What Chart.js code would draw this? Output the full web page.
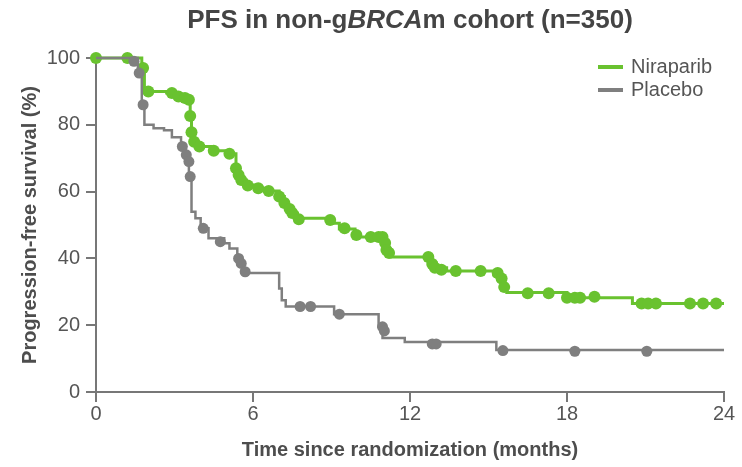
<!DOCTYPE html>
<html>
<head>
<meta charset="utf-8">
<script src="https://cdn.jsdelivr.net/npm/chart.js@4/dist/chart.umd.min.js"></script>
<style>
  html, body { margin: 0; padding: 0; background: #fff; }
  #wrap { width: 742px; height: 467px; position: relative; }
</style>
</head>
<body>
<div id="wrap"><canvas id="c" width="742" height="467"></canvas></div>
<script>
// ---- Data ----
const seriesNames = ["Niraparib", "Placebo"];
const xTickValues = [0, 6, 12, 18, 24];
const yTickValues = [0, 20, 40, 60, 80, 100];

// Kaplan-Meier step points: time (months) and survival (%) after each drop
const niraparibTimes    = [0, 1.75, 1.85, 2.7, 3.0, 3.5, 3.6, 3.65, 3.75, 3.9, 4.4, 5.1, 5.35, 5.45, 5.55, 5.75, 6.2, 6.6, 7.0, 7.2, 7.35, 7.5, 7.7, 8.9, 9.3, 9.9, 10.0, 11.0, 11.1, 11.3, 12.8, 13.0, 13.4, 15.2, 15.4, 15.55, 15.7, 18.0, 20.5, 24];
const niraparibSurvival = [100, 97, 90, 89.5, 88.5, 87.5, 83, 78, 75, 73.5, 72.2, 71.3, 67, 65, 63.5, 62, 61, 60.2, 58.5, 56.6, 54.8, 53.6, 52, 50.5, 48.8, 47, 46.4, 44.5, 42.5, 40.4, 38.6, 37.2, 36.2, 35, 33.5, 31.5, 29.8, 28.2, 26.5, 26.5];

const placeboTimes    = [0, 1.6, 1.75, 1.85, 2.2, 2.6, 2.9, 3.25, 3.35, 3.45, 3.55, 3.65, 3.8, 4.0, 4.3, 4.9, 5.1, 5.4, 5.55, 5.65, 7.0, 7.1, 7.25, 9.1, 10.8, 10.95, 11.8, 15.3, 24];
const placeboSurvival = [100, 95.5, 86, 80, 79, 78.4, 76.3, 74, 72, 69.5, 65, 54, 52, 49, 46, 44.5, 43, 40.4, 37.5, 35.6, 31, 27.5, 25.6, 23.3, 19.5, 16.2, 15, 12.6, 12.6];

// Censoring marks
const niraparibCensorTimes    = [0, 1.2, 1.8, 2.0, 2.9, 3.15, 3.4, 3.55, 3.6, 3.65, 3.75, 3.95, 4.5, 5.1, 5.35, 5.45, 5.55, 5.8, 6.2, 6.6, 7.0, 7.2, 7.4, 7.5, 7.75, 8.95, 9.5, 9.95, 10.5, 10.8, 10.95, 11.05, 11.1, 11.2, 12.7, 12.85, 12.95, 13.2, 13.75, 14.7, 15.35, 15.5, 15.6, 16.5, 17.3, 18.0, 18.3, 18.5, 19.05, 20.85, 21.1, 21.4, 22.7, 23.2, 23.7];
const niraparibCensorSurvival = [100, 100, 97, 90, 89.5, 88.5, 88, 87.5, 82.6, 77.8, 74.9, 73.5, 72.2, 71.3, 67, 65, 63.5, 61.8, 61, 60.2, 58.5, 56.6, 54.8, 53.6, 51.7, 51.5, 49, 47, 46.4, 46.4, 46.4, 44.6, 42.5, 41.6, 40.4, 38.3, 37.2, 36.6, 36.2, 36.2, 35.6, 34, 31.4, 29.6, 29.6, 28.2, 28.2, 28.2, 28.5, 26.5, 26.5, 26.5, 26.5, 26.5, 26.5];

const placeboCensorTimes    = [1.45, 1.65, 1.8, 3.3, 3.45, 3.55, 3.6, 4.1, 4.75, 5.45, 5.55, 5.7, 7.8, 8.2, 9.3, 10.95, 11.02, 12.85, 13.0, 15.55, 18.3, 21.05];
const placeboCensorSurvival = [99, 95.5, 86, 73.5, 71, 69, 64.5, 49, 45, 40, 38.5, 36, 25.6, 25.6, 23.3, 19.5, 18.3, 14.4, 14.4, 12.4, 12.2, 12.2];

// ---- Styles ----
const GREEN = "#69c22f";
const GRAY = "#7f7f7f";
const AXIS = "#777777";
const TEXT = "#555555";
const FONT = "'Liberation Sans', Arial, Helvetica, sans-serif";

const zip = (xs, ys) => xs.map((x, i) => ({ x: x, y: ys[i] }));

const titlePlugin = {
  id: "mixedTitle",
  afterDraw(chart) {
    const ctx = chart.ctx;
    const parts = [
      { t: "PFS in non-g", f: "bold 26px " + FONT },
      { t: "BRCA", f: "italic bold 26px " + FONT },
      { t: "m cohort (n=350)", f: "bold 26px " + FONT }
    ];
    ctx.save();
    ctx.fillStyle = "#444444";
    ctx.textBaseline = "middle";
    ctx.textAlign = "left";
    let total = 0;
    parts.forEach(p => { ctx.font = p.f; p.w = ctx.measureText(p.t).width; total += p.w; });
    let x = 410 - total / 2;
    parts.forEach(p => { ctx.font = p.f; ctx.fillText(p.t, x, 21); x += p.w; });
    ctx.restore();
  }
};

const legendPlugin = {
  id: "kmLegend",
  afterDraw(chart) {
    const ctx = chart.ctx;
    const items = chart.data.datasets.filter(d => d.legendEntry);
    ctx.save();
    ctx.font = "20px " + FONT;
    ctx.textBaseline = "middle";
    ctx.textAlign = "left";
    items.forEach((d, i) => {
      const y = 67 + i * 23;
      ctx.strokeStyle = d.borderColor;
      ctx.lineWidth = 4;
      ctx.beginPath();
      ctx.moveTo(598, y);
      ctx.lineTo(623, y);
      ctx.stroke();
      ctx.fillStyle = TEXT;
      ctx.fillText(d.label, 631, y);
    });
    ctx.restore();
  }
};

new Chart(document.getElementById("c"), {
  type: "line",
  data: {
    datasets: [
      {
        label: seriesNames[1], legendEntry: true,
        data: zip(placeboTimes, placeboSurvival),
        borderColor: GRAY, borderWidth: 2.5, stepped: true,
        pointRadius: 0, fill: false, order: 1, clip: false
      },
      {
        label: seriesNames[1] + " censored",
        data: zip(placeboCensorTimes, placeboCensorSurvival),
        showLine: false, pointRadius: 5.5, pointBackgroundColor: GRAY,
        pointBorderWidth: 0, borderColor: GRAY, order: 0, clip: false
      },
      {
        label: seriesNames[0], legendEntry: true,
        data: zip(niraparibTimes, niraparibSurvival),
        borderColor: GREEN, borderWidth: 3, stepped: true,
        pointRadius: 0, fill: false, order: 3, clip: false
      },
      {
        label: seriesNames[0] + " censored",
        data: zip(niraparibCensorTimes, niraparibCensorSurvival),
        showLine: false, pointRadius: 6, pointBackgroundColor: GREEN,
        pointBorderWidth: 0, borderColor: GREEN, order: 2, clip: false
      }
    ].sort((a, b) => (a.label === seriesNames[0] ? -1 : 0))
  },
  options: {
    responsive: false,
    animation: false,
    layout: { padding: { left: 0, right: 18, top: 58, bottom: 0 } },
    plugins: {
      legend: { display: false },
      title: { display: false },
      tooltip: { enabled: false }
    },
    scales: {
      x: {
        type: "linear", min: 0, max: 24,
        afterBuildTicks: s => { s.ticks = xTickValues.map(v => ({ value: v })); },
        afterFit: s => { s.height = 75; },
        ticks: { color: TEXT, font: { family: FONT, size: 20 }, padding: 0, maxRotation: 0 },
        grid: { display: true, drawOnChartArea: false, drawTicks: true, tickLength: 10, color: AXIS, lineWidth: 2 },
        border: { display: true, color: AXIS, width: 2 },
        title: { display: true, text: "Time since randomization (months)", color: "#4d4d4d",
                 font: { family: FONT, size: 20, weight: "bold" }, padding: { top: 0, bottom: 5 } }
      },
      y: {
        type: "linear", min: 0, max: 100,
        afterBuildTicks: s => { s.ticks = yTickValues.map(v => ({ value: v })); },
        afterFit: s => { s.width = 96; },
        ticks: { color: TEXT, font: { family: FONT, size: 20 }, padding: 6 },
        grid: { display: true, drawOnChartArea: false, drawTicks: true, tickLength: 10, color: AXIS, lineWidth: 2 },
        border: { display: true, color: AXIS, width: 2 },
        title: { display: true, text: "Progression-free survival (%)", color: "#4d4d4d",
                 font: { family: FONT, size: 20, weight: "bold" }, padding: { top: 18, bottom: 0 } }
      }
    }
  },
  plugins: [titlePlugin, legendPlugin]
});
</script>
</body>
</html>
